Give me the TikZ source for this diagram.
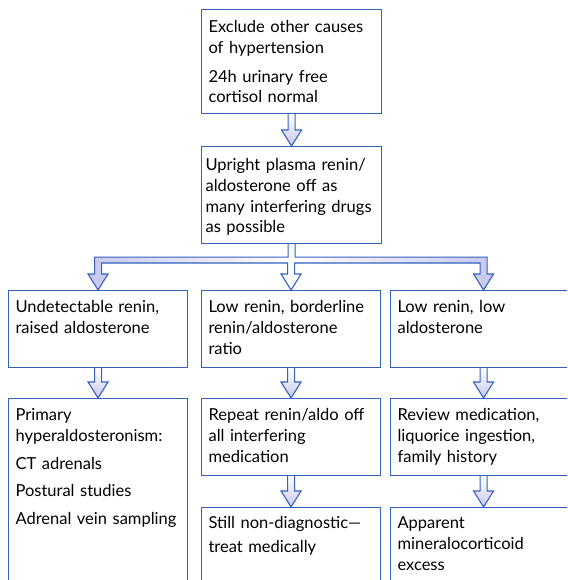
\documentclass[tikz,border=0pt]{standalone}
\usepackage{fontspec}
\newfontfamily\flowfont{Lato}
\usetikzlibrary{calc}
\definecolor{flowblue}{RGB}{52,96,192}
\definecolor{flowfill}{RGB}{200,200,236}
\newcommand{\flowarrow}[2]{%
  \path[arrowbody, top color=white, bottom color=flowfill]
    ($(#1.south)+(-3.5,0)$) |- ($(#2.north)+(-10,-16)$) -- (#2.north)
    -- ++(10,-16) -| ($(#1.south)+(3.5,0)$);}
\begin{document}
\begin{tikzpicture}[
    x=1pt, y=-1pt,
    box/.style={draw=flowblue, line width=1.1pt, anchor=north west, align=left,
      inner xsep=7pt, inner ysep=0pt, text height=22pt,
      font=\flowfont\fontsize{16.5}{20.8}\selectfont},
    arrowbody/.style={draw=flowblue, line width=1.1pt}
  ]
  \useasboundingbox (0,0) rectangle (567,580);
  \clip (0,0) rectangle (567,580);

  % top of the chart
  \node[box, text width=166pt, text height=23pt, text depth=81pt] (exclude) at (201,9)
    {Exclude other causes\\of hypertension\\[8pt]24h urinary free\\cortisol normal};
  \node[box, inner xsep=4pt, text width=172pt, text height=24pt, text depth=73pt] (plasma) at (201,146)
    {Upright plasma renin/\\aldosterone off as\\\mbox{many interfering drugs}\\as possible};

  % three branches
  \node[box, text width=165pt, text depth=55pt] (undet) at (8,290)
    {Undetectable renin,\\raised aldosterone};
  \node[box, text width=165pt, text depth=55pt] (border) at (201,290)
    {Low renin, borderline\\renin/aldosterone\\ratio};
  \node[box, text width=172pt, text depth=55pt] (lowlow) at (390,290)
    {Low renin, low\\aldosterone};

  \node[box, text width=165pt, text depth=188pt] (primary) at (8,398)
    {Primary\\hyperaldosteronism:\\[7pt]CT adrenals\\[7pt]Postural studies\\[7pt]Adrenal vein sampling};
  \node[box, text width=165pt, text depth=55pt] (repeat) at (201,398)
    {Repeat renin/aldo off\\all interfering\\medication};
  \node[box, text width=172pt, text depth=55pt] (review) at (390,398)
    {Review medication,\\liquorice ingestion,\\family history};

  \node[box, text width=165pt, text height=21pt, text depth=80pt] (still) at (201,507)
    {Still non-diagnostic—\\[3pt]treat medically};
  \node[box, text width=172pt, text height=21pt, text depth=80pt] (apparent) at (390,507)
    {Apparent\\mineralocorticoid\\excess};

  % arrows
  \flowarrow{exclude}{plasma}
  \path[arrowbody, left color=flowfill, right color=flowfill, middle color=white]
    ($(plasma.south)+(-3.5,0)$) -- ++(0,13) -| ($(undet.north)+(-3.5,-16)$)
    -- ++(-6.5,0) -- (undet.north) -- ++(10,-16) -- ++(-6.5,0)
    |- ($(border.north)+(-3.5,-27)$) -- ($(border.north)+(-3.5,-16)$)
    -- ++(-6.5,0) -- (border.north) -- ++(10,-16) -- ++(-6.5,0)
    |- ($(lowlow.north)+(-3.5,-27)$) -- ($(lowlow.north)+(-3.5,-16)$)
    -- ++(-6.5,0) -- (lowlow.north) -- ++(10,-16) -- ++(-6.5,0)
    |- ($(plasma.south)+(3.5,13)$) -- ($(plasma.south)+(3.5,0)$);
  \flowarrow{undet}{primary}
  \flowarrow{border}{repeat}
  \flowarrow{repeat}{still}
  \flowarrow{lowlow}{review}
  \flowarrow{review}{apparent}
\end{tikzpicture}
\end{document}
